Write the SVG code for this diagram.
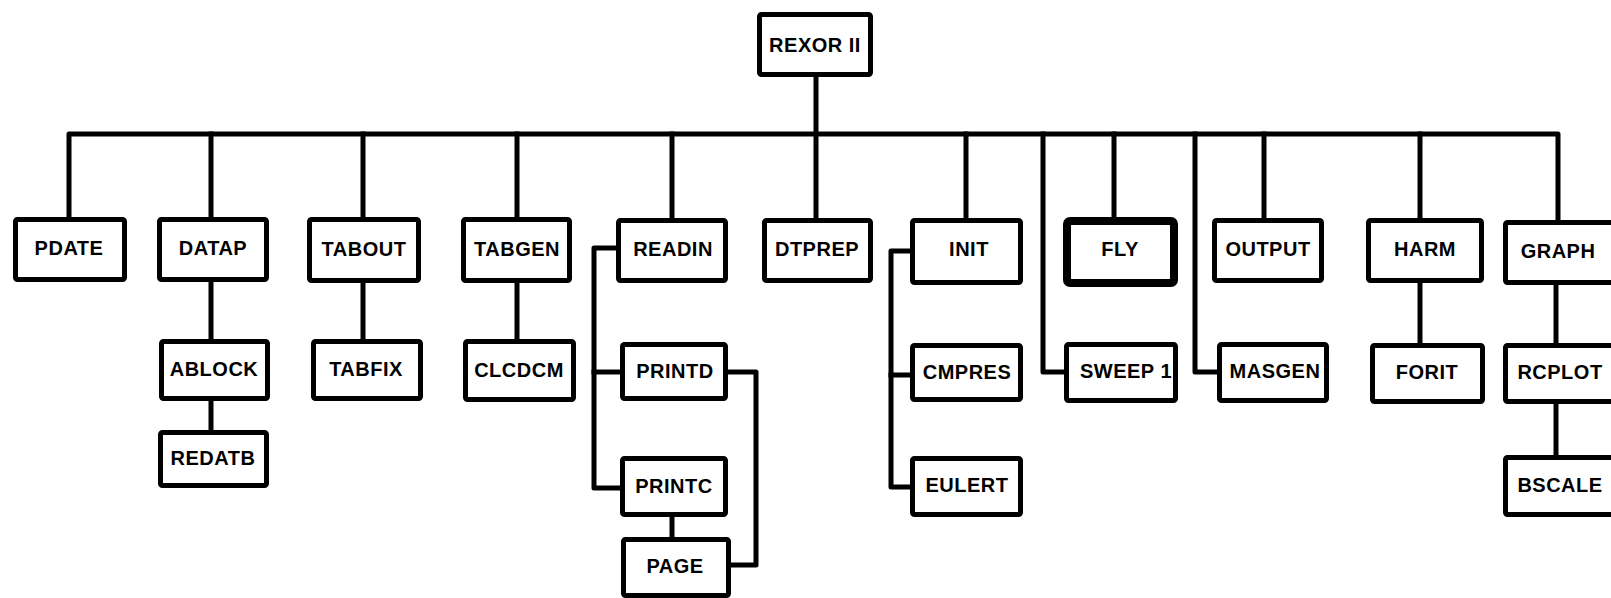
<svg xmlns="http://www.w3.org/2000/svg" width="1611" height="598" viewBox="0 0 1611 598">
<style>
.b{fill:#fff;stroke:#000;stroke-width:5;stroke-linejoin:round}
.thick{stroke-width:8}
.t{font-family:"Liberation Sans",Arial,sans-serif;font-weight:bold;font-size:20px;text-anchor:middle;fill:#000;letter-spacing:0.5px}
.c{fill:none;stroke:#000;stroke-width:5;stroke-linejoin:round;stroke-linecap:square}
</style>
<rect width="1611" height="598" fill="#fff"/>
<g id="connectors">
<path class="c" d="M816,77 V218"/>
<path class="c" d="M69,217 V134 H1558 V220"/>
<path class="c" d="M211,134 V217"/>
<path class="c" d="M363,134 V217"/>
<path class="c" d="M517,134 V217"/>
<path class="c" d="M672,134 V218"/>
<path class="c" d="M966,134 V218"/>
<path class="c" d="M1114,134 V217"/>
<path class="c" d="M1264,134 V218"/>
<path class="c" d="M1420,134 V218"/>
<path class="c" d="M1043,134 V372 H1064"/>
<path class="c" d="M1195,134 V372 H1217"/>
<path class="c" d="M211,282 V339"/>
<path class="c" d="M211,401 V430"/>
<path class="c" d="M363,283 V339"/>
<path class="c" d="M517,283 V339"/>
<path class="c" d="M616,248 H594 V488 H620"/>
<path class="c" d="M594,372 H620"/>
<path class="c" d="M728,372 H756 V565 H731"/>
<path class="c" d="M672,517 V537"/>
<path class="c" d="M910,251 H891 V487 H910"/>
<path class="c" d="M891,375 H910"/>
<path class="c" d="M1420,283 V343"/>
<path class="c" d="M1556,285 V343"/>
<path class="c" d="M1556,404 V455"/>
</g>
<g id="rexor"><rect class="b" x="759.5" y="14.5" width="111" height="60" rx="2"/><text class="t" x="815" y="52">REXOR II</text></g>
<g id="pdate"><rect class="b" x="15.5" y="219.5" width="109" height="60" rx="2"/><text class="t" x="69" y="255">PDATE</text></g>
<g id="datap"><rect class="b" x="159.5" y="219.5" width="107" height="60" rx="2"/><text class="t" x="213" y="255">DATAP</text></g>
<g id="tabout"><rect class="b" x="309.5" y="219.5" width="109" height="61" rx="2"/><text class="t" x="364" y="256">TABOUT</text></g>
<g id="tabgen"><rect class="b" x="463.5" y="219.5" width="106" height="61" rx="2"/><text class="t" x="517" y="256">TABGEN</text></g>
<g id="readin"><rect class="b" x="618.5" y="220.5" width="107" height="60" rx="2"/><text class="t" x="673" y="256">READIN</text></g>
<g id="dtprep"><rect class="b" x="764.5" y="220.5" width="106" height="60" rx="2"/><text class="t" x="817" y="256">DTPREP</text></g>
<g id="init"><rect class="b" x="912.5" y="220.5" width="108" height="62" rx="2"/><text class="t" x="969" y="256">INIT</text></g>
<g id="fly"><rect class="b thick" x="1067" y="221" width="107" height="62" rx="3"/><text class="t" x="1120" y="256">FLY</text></g>
<g id="output"><rect class="b" x="1214.5" y="220.5" width="107" height="60" rx="2"/><text class="t" x="1268" y="256">OUTPUT</text></g>
<g id="harm"><rect class="b" x="1368.5" y="220.5" width="113" height="60" rx="2"/><text class="t" x="1425" y="256">HARM</text></g>
<g id="graph"><rect class="b" x="1505.5" y="222.5" width="110" height="60" rx="2"/><text class="t" x="1558" y="258">GRAPH</text></g>
<g id="ablock"><rect class="b" x="161.5" y="341.5" width="106" height="57" rx="2"/><text class="t" x="214" y="376">ABLOCK</text></g>
<g id="tabfix"><rect class="b" x="313.5" y="341.5" width="107" height="57" rx="2"/><text class="t" x="366" y="376">TABFIX</text></g>
<g id="clcdcm"><rect class="b" x="465.5" y="341.5" width="108" height="58" rx="2"/><text class="t" x="519" y="377">CLCDCM</text></g>
<g id="printd"><rect class="b" x="622.5" y="344.5" width="103" height="54" rx="2"/><text class="t" x="675" y="378">PRINTD</text></g>
<g id="cmpres"><rect class="b" x="912.5" y="345.5" width="108" height="54" rx="2"/><text class="t" x="967" y="379">CMPRES</text></g>
<g id="sweep1"><rect class="b" x="1066.5" y="344.5" width="109" height="56" rx="2"/><text class="t" x="1126" y="378">SWEEP 1</text></g>
<g id="masgen"><rect class="b" x="1219.5" y="344.5" width="107" height="56" rx="2"/><text class="t" x="1275" y="378">MASGEN</text></g>
<g id="forit"><rect class="b" x="1372.5" y="345.5" width="110" height="56" rx="2"/><text class="t" x="1427" y="379">FORIT</text></g>
<g id="rcplot"><rect class="b" x="1505.5" y="345.5" width="110" height="56" rx="2"/><text class="t" x="1560" y="379">RCPLOT</text></g>
<g id="redatb"><rect class="b" x="160.5" y="432.5" width="106" height="53" rx="2"/><text class="t" x="213" y="465">REDATB</text></g>
<g id="printc"><rect class="b" x="622.5" y="458.5" width="103" height="56" rx="2"/><text class="t" x="674" y="493">PRINTC</text></g>
<g id="eulert"><rect class="b" x="912.5" y="458.5" width="108" height="56" rx="2"/><text class="t" x="967" y="492">EULERT</text></g>
<g id="bscale"><rect class="b" x="1505.5" y="457.5" width="110" height="57" rx="2"/><text class="t" x="1560" y="492">BSCALE</text></g>
<g id="page"><rect class="b" x="623.5" y="539.5" width="105" height="56" rx="2"/><text class="t" x="675" y="573">PAGE</text></g>
</svg>
